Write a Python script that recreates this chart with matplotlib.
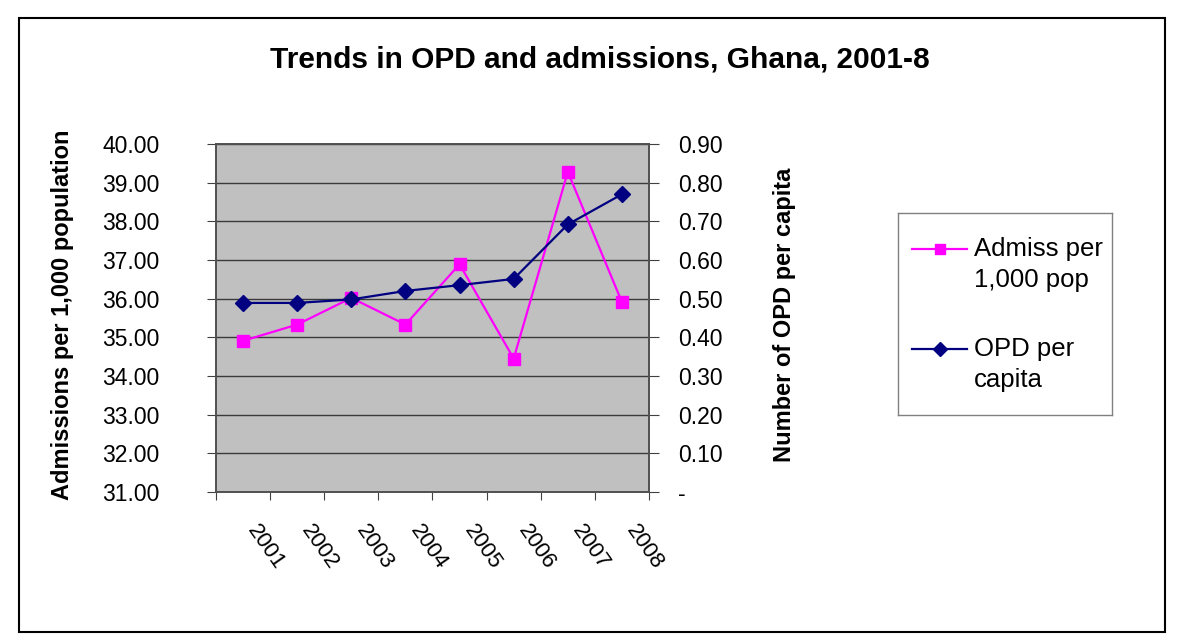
import matplotlib.pyplot as plt
import matplotlib.patches as mpatches
from matplotlib.lines import Line2D
import numpy as np

plt.rcParams['font.family'] = ['Liberation Sans', 'DejaVu Sans']

years = ['2001', '2002', '2003', '2004', '2005', '2006', '2007', '2008']
admiss = [34.91, 35.33, 36.02, 35.33, 36.89, 34.45, 39.28, 35.91]
opd = [0.489, 0.489, 0.498, 0.520, 0.535, 0.551, 0.692, 0.770]

left_ticks = np.arange(31, 41, 1)
right_ticks = np.arange(0, 1.0, 0.1)

W, H = 1200, 643
fig = plt.figure(figsize=(12, 6.43), dpi=100)
ax = fig.add_axes([216 / W, 1 - 492 / H, 433 / W, 348 / H])
ax2 = ax.twinx()

x = np.arange(len(years))
ax.set_facecolor('#C0C0C0')
ax.set_xlim(-0.5, len(years) - 0.5)
ax.set_ylim(31, 40)
ax2.set_ylim(0, 0.9)

# grid lines
for t in left_ticks:
    ax.axhline(t, color='#3a3a3a', lw=1, zorder=1)

ax.plot(x, admiss, color='#FF00FF', lw=1.6, marker='s', ms=8,
        zorder=3)
ax2.plot(x, opd, color='#000080', lw=1.6, marker='D', ms=8,
         zorder=3)

ax.set_yticks(left_ticks)
ax.set_yticklabels(['%.2f' % t for t in left_ticks], fontsize=16.5)
ax2.set_yticks(right_ticks)
ax2.set_yticklabels(['-'] + ['%.2f' % t for t in right_ticks[1:]],
                    fontsize=16.5)

ax.set_xticks(np.arange(len(years) + 1) - 0.5)
ax.set_xticklabels([])
ax.set_xticks(x, minor=True)
ax.set_xticklabels(years, minor=True, rotation=-55, ha='left', va='top',
                   fontsize=16)
ax.tick_params(axis='x', which='minor', length=0, pad=21)
ax.tick_params(axis='x', which='major', length=6, color='#404040')
ax.tick_params(axis='y', length=6.5, color='#404040', pad=34)
ax2.tick_params(axis='y', length=7, color='#404040', pad=14)

for a in (ax, ax2):
    for sp in a.spines.values():
        sp.set_color('#505050')
        sp.set_linewidth(1.2)

fig.text(63 / W, 1 - 315 / H, 'Admissions per 1,000 population',
         rotation=90, ha='center', va='center', fontsize=17,
         fontweight='bold')
fig.text(785 / W, 1 - 315 / H, 'Number of OPD per capita',
         rotation=90, ha='center', va='center', fontsize=17,
         fontweight='bold')

fig.text(0.50, 1 - 60 / H, 'Trends in OPD and admissions, Ghana, 2001-8',
         ha='center', va='center', fontsize=21.5, fontweight='bold')

# legend box, drawn like the Excel one (marker level with first line)
lx0, lx1, ly0, ly1 = 898, 1112, 213, 415
lax = fig.add_axes([lx0 / W, 1 - ly1 / H, (lx1 - lx0) / W, (ly1 - ly0) / H])
lax.set_xlim(lx0, lx1)
lax.set_ylim(ly1, ly0)
lax.set_xticks([])
lax.set_yticks([])
for sp in lax.spines.values():
    sp.set_color('#808080')
    sp.set_linewidth(1)

entries = [('#FF00FF', 's', 7, ['Admiss per', '1,000 pop'], 249),
           ('#000080', 'D', 7, ['OPD per', 'capita'], 349)]
for col, mk, ms, lines, yy in entries:
    lax.add_line(Line2D([912, 967], [yy, yy], color=col, lw=1.6))
    lax.plot([940], [yy], marker=mk, color=col, ms=ms)
    for i, s in enumerate(lines):
        lax.text(974, yy + 7 + i * 31, s, fontsize=18.5, va='baseline',
                 ha='left')

border = mpatches.Rectangle((19 / W, 1 - 632 / H), (1165 - 19) / W,
                            (632 - 18) / H, transform=fig.transFigure,
                            fill=False, edgecolor='black', lw=1.5)
fig.patches.append(border)

plt.savefig('out.png', dpi=100)
